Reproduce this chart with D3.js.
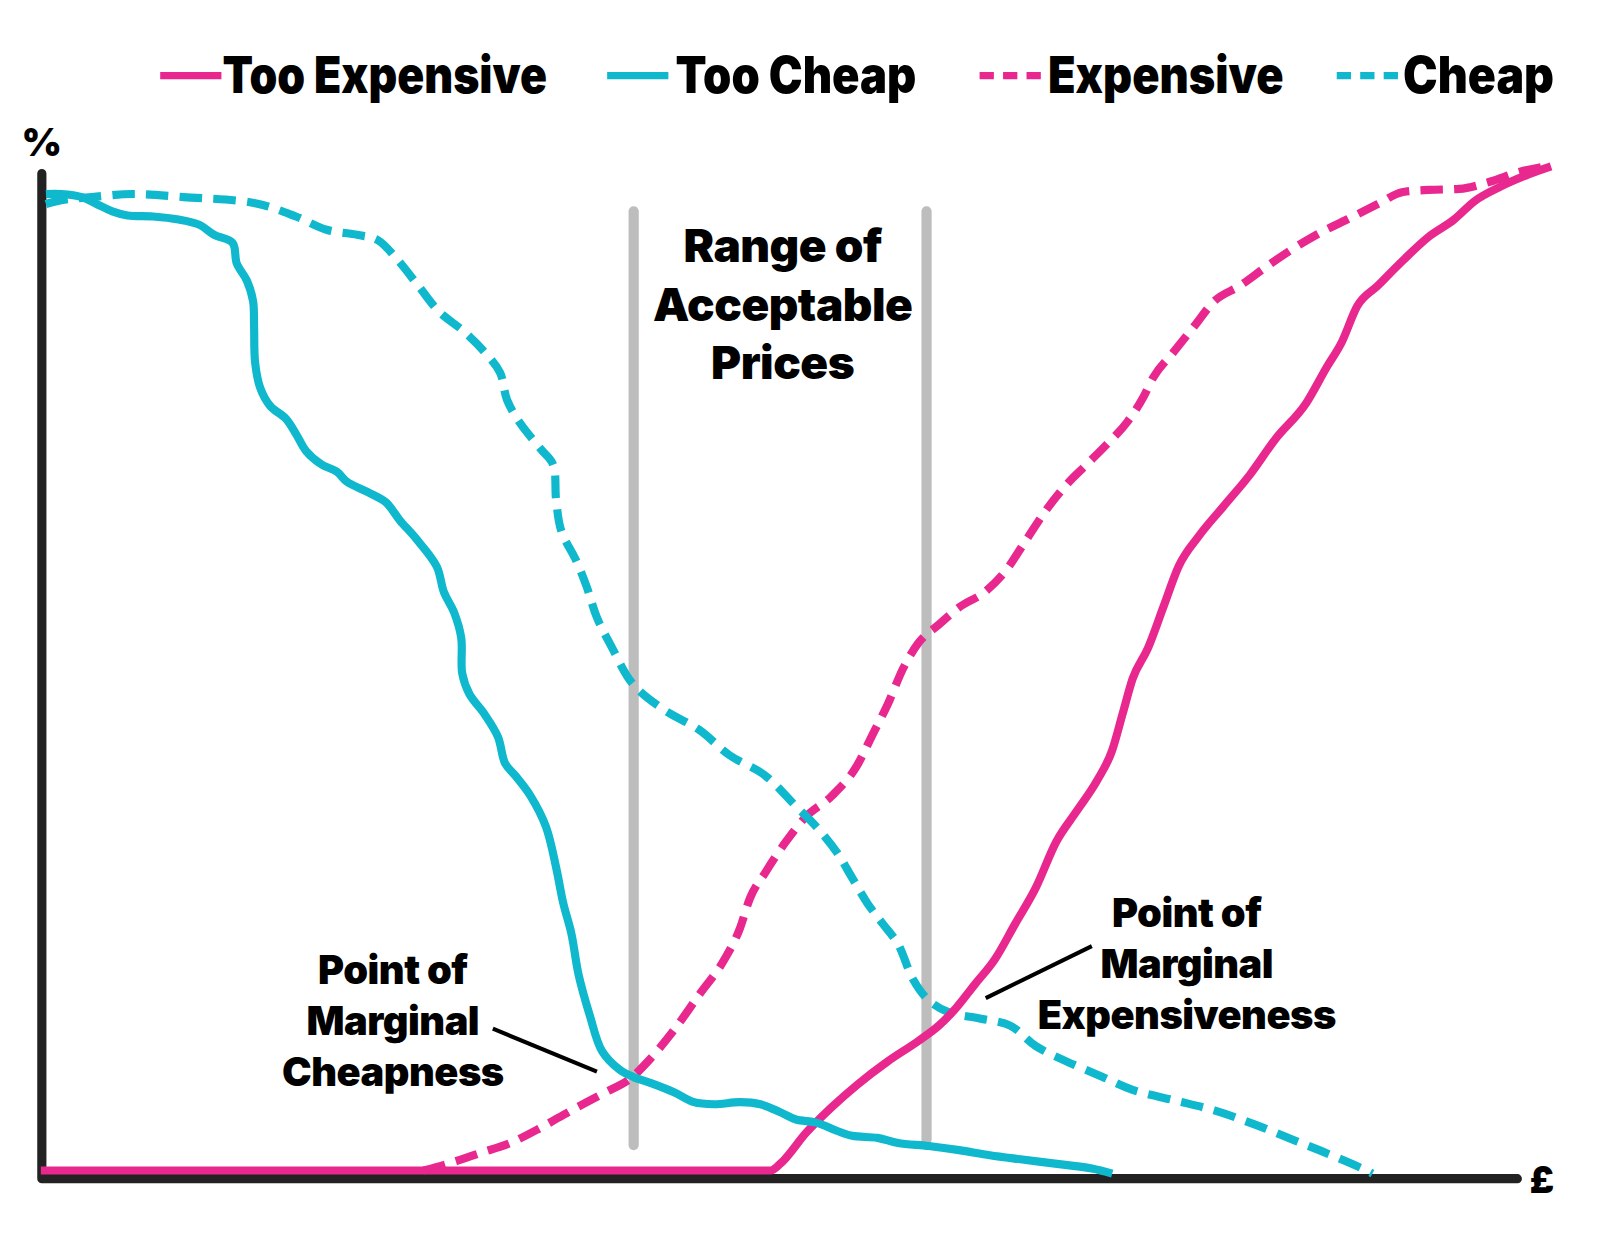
<!DOCTYPE html>
<meta charset="utf-8">
<script src="https://d3js.org/d3.v7.min.js"></script>
<style>
  body { margin: 0; background: #fff; }
  svg { display: block; }
  text { font-family: Inter, "Noto Sans", sans-serif; font-weight: 900; fill: #000; }
</style>
<div id="my_dataviz"></div>

<script>
    // price (x) and cumulative % of respondents (y)
    const tooCheapPrice = [0.5, 2, 4, 5.5, 7, 8.5, 11, 13.5, 15.5, 17, 18.8, 19.2, 20.2, 20.8, 20.9, 21, 21.5, 22.5, 24, 25, 26, 27.5, 29, 30, 32, 33.8, 35.2, 36.8, 38.8, 39.5, 40.5, 41.2, 41.3, 42, 43.5, 44.8, 45.5, 46.5, 48, 49.5, 50.5, 51.2, 52, 52.7, 53.8, 55, 56.7, 58, 60, 62, 64, 66, 68.5, 70.5, 72.5, 74, 76, 78, 79.5, 82, 84, 87, 90, 93, 96, 100, 103, 105];
    const tooCheapPct = [96, 96, 95.7, 95, 94.3, 93.9, 93.8, 93.5, 93, 92, 91.2, 89.2, 87.5, 85.5, 83, 79.5, 77, 75.2, 74, 72.5, 70.8, 69.5, 68.8, 67.8, 66.8, 65.8, 64, 62.2, 59.5, 57, 55, 52.5, 49, 47, 45, 42.8, 40.2, 39, 37, 34, 30, 26.5, 23.5, 19.5, 15.5, 12, 10.2, 9.5, 8.8, 8, 7, 6.8, 7, 6.8, 6, 5.3, 5, 4.2, 3.7, 3.5, 3, 2.7, 2.3, 1.8, 1.4, 0.9, 0.5, 0];

    const cheapPrice = [0.5, 2, 5, 9, 14, 21, 25, 28, 31, 33, 35, 37, 39, 41.5, 43.5, 45, 45.7, 47, 49, 50.2, 50.5, 51, 52.5, 53.5, 54.5, 56, 58, 61, 64.5, 67.5, 71, 74, 76, 78, 79.5, 81, 82.5, 84, 85.5, 87, 89, 92, 95, 97.5, 100.5, 104, 107, 111, 115, 119, 123, 126, 129.5, 130.5];
    const cheapPct = [95, 95.4, 95.7, 96, 95.7, 95.1, 93.8, 92.5, 92, 91.5, 89.5, 87, 84.5, 82.5, 80.5, 78.5, 75.8, 73.5, 71, 69.5, 66, 63, 60, 57.5, 54.5, 51.5, 48, 45.5, 43.5, 41, 39, 36, 34, 31.5, 29, 26.5, 24.5, 22.5, 19, 17, 15.8, 15.2, 14.5, 12.5, 11, 9.5, 8.2, 7.2, 6.2, 4.8, 3.2, 2, 0.5, 0];

    const tooExpPrice = [0, 35, 71.5, 72.5, 75, 77.5, 80, 83, 86, 88, 89.5, 91.5, 93.5, 95.5, 97.5, 99.5, 101.5, 103.5, 105, 106, 107, 108.5, 110, 111.5, 113.5, 116, 118.5, 121, 124, 126, 127.5, 129, 131, 133.5, 136, 138.5, 140.5, 143, 145.5, 148];
    const tooExpPct = [0.3, 0.3, 0.3, 1, 4, 6.5, 8.7, 11, 13, 14.5, 16, 18.5, 21, 24.5, 28, 32.5, 35.5, 38.5, 41.5, 45, 48.5, 51.5, 55.5, 59.5, 62.5, 65.5, 68.5, 72, 75.5, 79, 81.5, 85, 87, 89.5, 91.8, 93.5, 95.3, 96.7, 97.8, 98.7];

    const expPrice = [37.5, 40, 43, 46, 49, 52, 55, 58, 59.5, 62, 64.5, 67, 68.5, 69.5, 71, 73, 75, 77.5, 80, 81.5, 83, 84.5, 86, 88, 90, 92.5, 94.5, 96.5, 98.5, 100.5, 102.5, 104.5, 106.5, 108, 109, 111, 113, 115, 117.5, 120, 122.5, 125, 128, 131, 133.5, 136, 139, 142, 145, 148];
    const expPct = [0.3, 1, 2, 3, 4.5, 6.2, 7.8, 9.5, 11, 14, 17.5, 21, 24, 27, 29.5, 32.5, 35, 37, 40, 43, 46, 49.5, 52, 53.8, 55.5, 57, 59, 62, 65, 67.5, 69.5, 71.5, 73.7, 76, 78, 80.5, 83, 85.5, 87, 88.8, 90.5, 92, 93.5, 95, 96.2, 96.4, 96.5, 97.2, 98.2, 98.8];

    // range of acceptable prices (marginal cheapness / marginal expensiveness)
    const rangePrices = [58.1, 86.8];
    const rangeTop = 94.3, rangeBottom = [2.8, 3.3];

    const seriesNames = ["Too Expensive", "Too Cheap", "Expensive", "Cheap"];

    const pink = "#e8288f", cyan = "#10b8cd";

    const width = 1600, height = 1237;

    const svg = d3.select("#my_dataviz")
        .append("svg")
        .attr("width", width)
        .attr("height", height)
        .attr("viewBox", "0 0 1568 1212");

    svg.append("rect").attr("width", 1600).attr("height", 1260).attr("fill", "#fff");

    const x = d3.scaleLinear().domain([0, 150]).range([40, 1540]);
    const y = d3.scaleLinear().domain([0, 100]).range([1150, 150]);

    const lineRom = d3.line()
        .x(d => x(d[0]))
        .y(d => y(d[1]))
        .curve(d3.curveCatmullRom.alpha(0.5));
    const lineMono = d3.line()
        .x(d => x(d[0]))
        .y(d => y(d[1]))
        .curve(d3.curveMonotoneX);

    const zip = (a, b) => a.map((v, i) => [v, b[i]]);

    const series = [
        { name: seriesNames[0], pts: zip(tooExpPrice, tooExpPct), color: pink, dash: null, gen: lineMono },
        { name: seriesNames[1], pts: zip(tooCheapPrice, tooCheapPct), color: cyan, dash: null, gen: lineRom },
        { name: seriesNames[2], pts: zip(expPrice, expPct), color: pink, dash: "22,11", gen: lineMono },
        { name: seriesNames[3], pts: zip(cheapPrice, cheapPct), color: cyan, dash: "22,11", gen: lineRom }
    ];

    // grey range lines
    svg.selectAll(".range")
        .data(rangePrices)
        .join("line")
        .attr("x1", d => x(d)).attr("x2", d => x(d))
        .attr("y1", y(rangeTop))
        .attr("y2", (d, i) => y(rangeBottom[i]))
        .attr("stroke", "#bdbdbd")
        .attr("stroke-width", 10)
        .attr("stroke-linecap", "round");

    // axes
    svg.append("path")
        .attr("d", `M${x(0) + 1},${y(98)} L${x(0) + 1},${y(-0.5)} L${x(144.7)},${y(-0.5)}`)
        .attr("fill", "none")
        .attr("stroke", "#222")
        .attr("stroke-width", 9)
        .attr("stroke-linecap", "round")
        .attr("stroke-linejoin", "round");

    // curves: dashed first, solid on top
    [series[2], series[3], series[0], series[1]].forEach(s => {
        svg.append("path")
            .attr("d", s.gen(s.pts))
            .attr("fill", "none")
            .attr("stroke", s.color)
            .attr("stroke-width", 8)
            .attr("stroke-linejoin", "round")
            .attr("stroke-dasharray", s.dash);
    });

    // axis labels
    svg.append("text").attr("x", 41).attr("y", 153).attr("text-anchor", "middle")
        .attr("font-size", 38).text("%");
    svg.append("text").attr("x", 1511).attr("y", 1169).attr("text-anchor", "middle")
        .attr("font-size", 36).text("£");

    // legend
    const legendX = [157, 595, 960, 1310];
    const legendTextX = [218, 662, 1027, 1375];
    const legendTextW = [318, 236, 231, 148];
    series.forEach((s, i) => {
        svg.append("line")
            .attr("x1", legendX[i]).attr("x2", legendX[i] + 60)
            .attr("y1", 74).attr("y2", 74)
            .attr("stroke", s.color)
            .attr("stroke-width", 7)
            .attr("stroke-dasharray", s.dash ? "14,9" : null);
        svg.append("text")
            .attr("x", legendTextX[i]).attr("y", 91)
            .attr("font-size", 50)
            .attr("textLength", legendTextW[i])
            .attr("lengthAdjust", "spacingAndGlyphs")
            .text(s.name);
    });

    // annotations
    function block(lines, cx, y0, size, step) {
        svg.append("g").selectAll("text")
            .data(lines)
            .join("text")
            .attr("x", cx)
            .attr("y", (d, i) => y0 + i * step)
            .attr("text-anchor", "middle")
            .attr("font-size", size)
            .attr("letter-spacing", -0.5)
            .text(d => d);
    }
    block(["Range of", "Acceptable", "Prices"], 767, 257, 45, 57);
    block(["Point of", "Marginal", "Cheapness"], 385, 964, 39, 50);
    block(["Point of", "Marginal", "Expensiveness"], 1163, 908, 39, 50);

    // leader lines
    const leaders = [[[44.3, 14.2], [54.5, 10]], [[92.6, 17.2], [103, 22.3]]];
    svg.selectAll(".leader")
        .data(leaders)
        .join("line")
        .attr("x1", d => x(d[0][0])).attr("y1", d => y(d[0][1]))
        .attr("x2", d => x(d[1][0])).attr("y2", d => y(d[1][1]))
        .attr("stroke", "#000")
        .attr("stroke-width", 4);
</script>
